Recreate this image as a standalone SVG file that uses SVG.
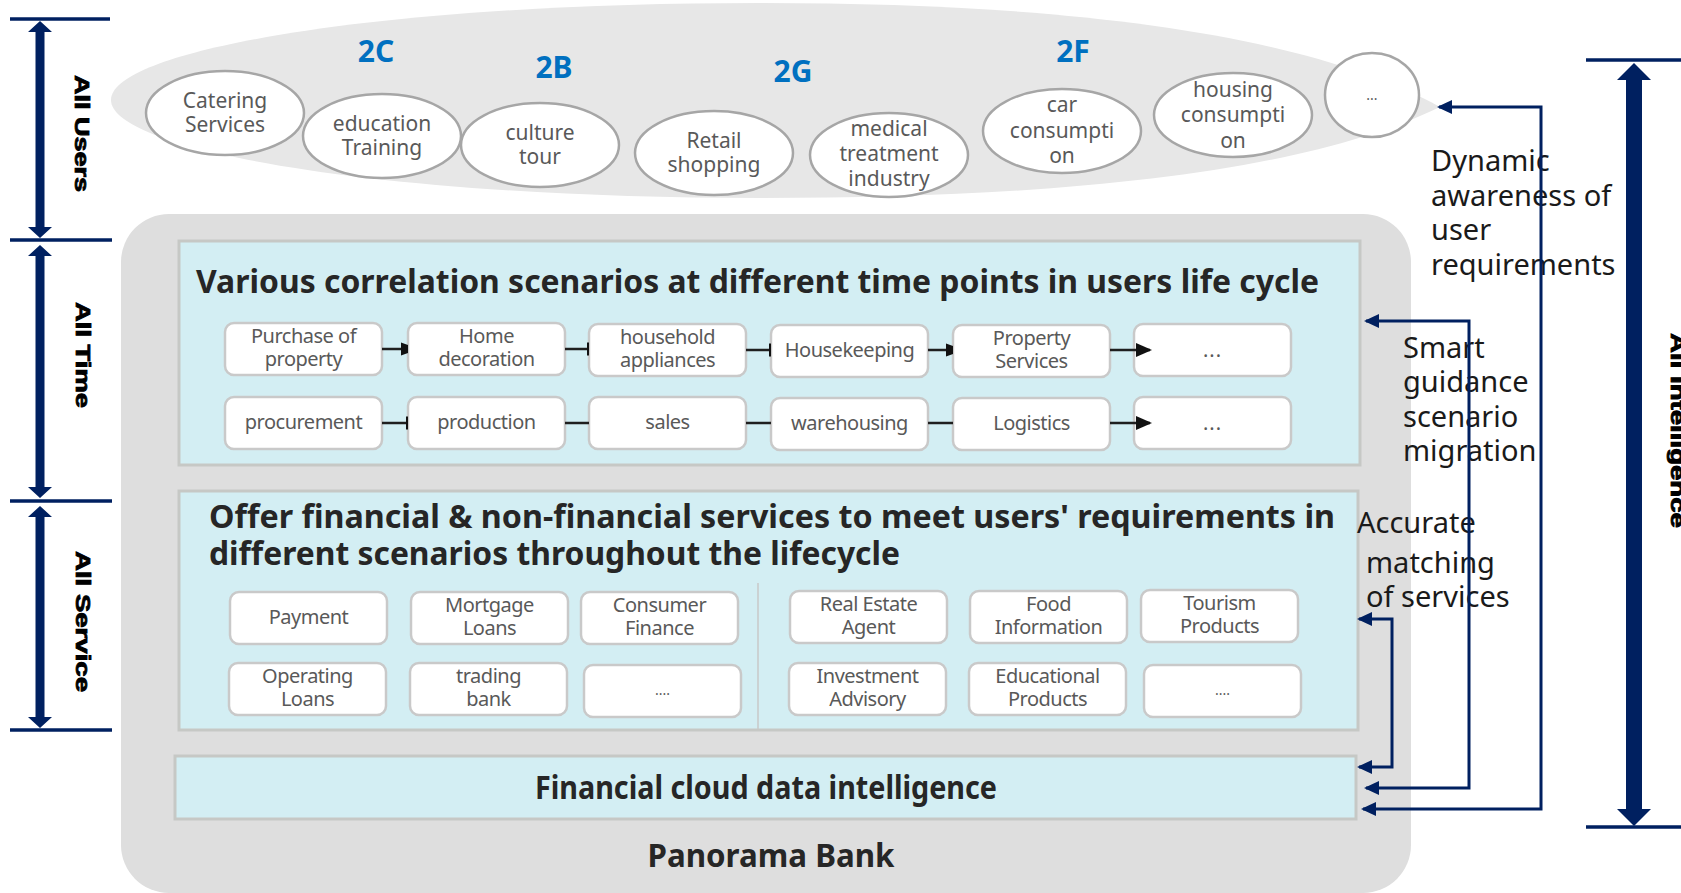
<svg xmlns="http://www.w3.org/2000/svg" width="1681" height="893" viewBox="0 0 1681 893">
  <style>
    .navy { fill: #002060; }
    .scale { stroke: #002060; stroke-width: 3.5; fill: none; }
    .lbl { font-family: "Liberation Sans", Arial, sans-serif; font-weight: bold; font-size: 20px; fill: #000; stroke: #000; stroke-width: 0.8px; }
    .bubble { fill: #fff; stroke: #a6a6a6; stroke-width: 2.5; }
    .btxt { font-family: "Noto Sans", "Open Sans", sans-serif; font-size: 21px; fill: #595959; text-anchor: middle; }
    .seg { font-family: "Noto Sans", "Open Sans", sans-serif; font-weight: bold; font-size: 30px; fill: #0070c0; text-anchor: middle; }
    .panel { fill: #d3eef3; stroke: #c6c8c5; stroke-width: 3; }
    .box { fill: #fff; stroke: #c9c9c9; stroke-width: 2.5; }
    .t { font-family: "Noto Sans", "Open Sans", sans-serif; font-size: 20px; letter-spacing: -0.5px; fill: #595959; text-anchor: middle; }
    .dots { font-family: "Noto Sans", sans-serif; font-size: 14px; fill: #595959; text-anchor: middle; }
    .title { font-family: "Noto Sans", "Open Sans", sans-serif; font-weight: bold; font-size: 32px; fill: #262626; }
    .side { font-family: "Noto Sans", "Open Sans", sans-serif; font-size: 29px; fill: #1a1a1a; }
    .flow { stroke: #1f1f1f; stroke-width: 2.5; fill: none; }
    .link { stroke: #002060; stroke-width: 3; fill: none; marker-start: url(#navyHead); marker-end: url(#navyHead); }
  </style>
  <defs>
    <marker id="tri" markerUnits="userSpaceOnUse" markerWidth="16" markerHeight="14" refX="14" refY="7" orient="auto">
      <path d="M0,0 L16,7 L0,14 Z" fill="#111"/>
    </marker>
    <marker id="stub" markerUnits="userSpaceOnUse" markerWidth="8" markerHeight="14" refX="7" refY="7" orient="auto">
      <path d="M0,0.5 L7,3 L7,11 L0,13.5 Z" fill="#111"/>
    </marker>
    <marker id="bar" markerUnits="userSpaceOnUse" markerWidth="3" markerHeight="14" refX="2.5" refY="7" orient="auto">
      <rect x="0" y="0.5" width="2.5" height="13" fill="#111"/>
    </marker>
    <marker id="navyHead" markerUnits="userSpaceOnUse" markerWidth="15" markerHeight="14" refX="13" refY="7" orient="auto-start-reverse">
      <path d="M0,0 L15,7 L0,14 Z" fill="#002060"/>
    </marker>
  </defs>

  <!-- left dimension scale -->
  <g id="scale-left">
    <line class="scale" x1="10" y1="19" x2="110" y2="19"/>
    <line class="scale" x1="10" y1="240" x2="112" y2="240"/>
    <line class="scale" x1="10" y1="501" x2="112" y2="501"/>
    <line class="scale" x1="10" y1="730" x2="112" y2="730"/>
    <polygon class="navy" points="40,21 52,32 44.5,32 44.5,227 52,227 40,238 28,227 35.5,227 35.5,32 28,32"/>
    <polygon class="navy" points="40,245 52,256 44.5,256 44.5,487 52,487 40,498 28,487 35.5,487 35.5,256 28,256"/>
    <polygon class="navy" points="40,506 52,517 44.5,517 44.5,717 52,717 40,728 28,717 35.5,717 35.5,517 28,517"/>
    <text class="lbl" transform="translate(75,75) rotate(90)" textLength="117" lengthAdjust="spacingAndGlyphs">All Users</text>
    <text class="lbl" transform="translate(76,302) rotate(90)" textLength="106" lengthAdjust="spacingAndGlyphs">All Time</text>
    <text class="lbl" transform="translate(76,551) rotate(90)" textLength="141" lengthAdjust="spacingAndGlyphs">All Service</text>
  </g>

  <!-- right dimension scale -->
  <g id="scale-right">
    <line class="scale" x1="1586" y1="60" x2="1681" y2="60"/>
    <line class="scale" x1="1586" y1="827" x2="1681" y2="827"/>
    <polygon class="navy" points="1634,63 1651,80 1642,80 1642,809 1651,809 1634,826 1617,809 1626,809 1626,80 1617,80"/>
    <text class="lbl" transform="translate(1671,333) rotate(90)" textLength="195" lengthAdjust="spacingAndGlyphs">All Intelligence</text>
  </g>

  <!-- user cloud -->
  <g id="users">
    <path d="M1440,107 C1300,30 1050,3 760,3 C380,3 111,50 111,100 C111,150 380,198 760,198 C1050,198 1300,175 1440,107 Z" fill="#e7e7e7"/>
    <text class="seg" x="376" y="62">2C</text>
    <text class="seg" x="554" y="78">2B</text>
    <text class="seg" x="793" y="82">2G</text>
    <text class="seg" x="1073" y="62">2F</text>
  </g>
  <g id="u-catering"><ellipse class="bubble" cx="225" cy="113" rx="79" ry="42"/><text class="btxt" x="225" y="108">Catering</text><text class="btxt" x="225" y="132">Services</text></g>
  <g id="u-education"><ellipse class="bubble" cx="382" cy="136" rx="79" ry="42"/><text class="btxt" x="382" y="131">education</text><text class="btxt" x="382" y="155">Training</text></g>
  <g id="u-culture"><ellipse class="bubble" cx="540" cy="145" rx="79" ry="42"/><text class="btxt" x="540" y="140">culture</text><text class="btxt" x="540" y="164">tour</text></g>
  <g id="u-retail"><ellipse class="bubble" cx="714" cy="153" rx="79" ry="42"/><text class="btxt" x="714" y="148">Retail</text><text class="btxt" x="714" y="172">shopping</text></g>
  <g id="u-medical"><ellipse class="bubble" cx="889" cy="155" rx="79" ry="42"/><text class="btxt" x="889" y="136">medical</text><text class="btxt" x="889" y="161">treatment</text><text class="btxt" x="889" y="186">industry</text></g>
  <g id="u-car"><ellipse class="bubble" cx="1062" cy="131" rx="79" ry="42"/><text class="btxt" x="1062" y="112">car</text><text class="btxt" x="1062" y="138">consumpti</text><text class="btxt" x="1062" y="163">on</text></g>
  <g id="u-housing"><ellipse class="bubble" cx="1233" cy="115" rx="79" ry="42"/><text class="btxt" x="1233" y="97">housing</text><text class="btxt" x="1233" y="122">consumpti</text><text class="btxt" x="1233" y="148">on</text></g>
  <g id="u-more"><ellipse class="bubble" cx="1372" cy="95" rx="47" ry="42"/><text class="dots" x="1372" y="100">...</text></g>

  <!-- bank platform -->
  <g id="bank">
    <rect x="121" y="214" width="1290" height="679" rx="48" fill="#dedede"/>
    <text class="title" x="771" y="867" text-anchor="middle" textLength="247" lengthAdjust="spacingAndGlyphs">Panorama Bank</text>
  </g>

  <g id="scenarios">
    <rect class="panel" x="179" y="241" width="1181" height="224"/>
    <text class="title" x="196" y="293" textLength="1123" lengthAdjust="spacingAndGlyphs">Various correlation scenarios at different time points in users life cycle</text>
  </g>
  <g id="s-purchase"><rect class="box" x="225" y="323" width="157" height="52" rx="9"/><text class="t" x="303.5" y="343">Purchase of</text><text class="t" x="303.5" y="366">property</text></g>
  <g id="s-home"><rect class="box" x="408" y="323" width="157" height="52" rx="9"/><text class="t" x="486.5" y="343">Home</text><text class="t" x="486.5" y="366">decoration</text></g>
  <g id="s-appliances"><rect class="box" x="589" y="324" width="157" height="52" rx="9"/><text class="t" x="667.5" y="344">household</text><text class="t" x="667.5" y="367">appliances</text></g>
  <g id="s-housekeeping"><rect class="box" x="771" y="325" width="157" height="52" rx="9"/><text class="t" x="849.5" y="357">Housekeeping</text></g>
  <g id="s-property"><rect class="box" x="953" y="325" width="157" height="52" rx="9"/><text class="t" x="1031.5" y="345">Property</text><text class="t" x="1031.5" y="368">Services</text></g>
  <g id="s-more1"><rect class="box" x="1134" y="324" width="157" height="52" rx="9"/><text class="t" x="1212.5" y="357" style="letter-spacing:1px">...</text></g>
  <g id="s-procurement"><rect class="box" x="225" y="397" width="157" height="52" rx="9"/><text class="t" x="303.5" y="429">procurement</text></g>
  <g id="s-production"><rect class="box" x="408" y="397" width="157" height="52" rx="9"/><text class="t" x="486.5" y="429">production</text></g>
  <g id="s-sales"><rect class="box" x="589" y="397" width="157" height="52" rx="9"/><text class="t" x="667.5" y="429">sales</text></g>
  <g id="s-warehousing"><rect class="box" x="771" y="398" width="157" height="52" rx="9"/><text class="t" x="849.5" y="430">warehousing</text></g>
  <g id="s-logistics"><rect class="box" x="953" y="398" width="157" height="52" rx="9"/><text class="t" x="1031.5" y="430">Logistics</text></g>
  <g id="s-more2"><rect class="box" x="1134" y="397" width="157" height="52" rx="9"/><text class="t" x="1212.5" y="430" style="letter-spacing:1px">...</text></g>

  <g id="services">
    <rect class="panel" x="179" y="491" width="1179" height="239"/>
    <text class="title" x="209" y="528" textLength="1126" lengthAdjust="spacingAndGlyphs">Offer financial &amp; non-financial services to meet users' requirements in</text>
    <text class="title" x="209" y="565" textLength="691" lengthAdjust="spacingAndGlyphs">different scenarios throughout the lifecycle</text>
    <line x1="758" y1="583" x2="758" y2="729" stroke="#c8c8c8" stroke-width="1.5"/>
  </g>
  <g id="f-payment"><rect class="box" x="230" y="592" width="157" height="52" rx="9"/><text class="t" x="308.5" y="624">Payment</text></g>
  <g id="f-mortgage"><rect class="box" x="411" y="592" width="157" height="52" rx="9"/><text class="t" x="489.5" y="612">Mortgage</text><text class="t" x="489.5" y="635">Loans</text></g>
  <g id="f-consumer"><rect class="box" x="581" y="592" width="157" height="52" rx="9"/><text class="t" x="659.5" y="612">Consumer</text><text class="t" x="659.5" y="635">Finance</text></g>
  <g id="f-operating"><rect class="box" x="229" y="663" width="157" height="52" rx="9"/><text class="t" x="307.5" y="683">Operating</text><text class="t" x="307.5" y="706">Loans</text></g>
  <g id="f-trading"><rect class="box" x="410" y="663" width="157" height="52" rx="9"/><text class="t" x="488.5" y="683">trading</text><text class="t" x="488.5" y="706">bank</text></g>
  <g id="f-more"><rect class="box" x="584" y="665" width="157" height="52" rx="9"/><text class="dots" x="662.5" y="695">....</text></g>
  <g id="n-realestate"><rect class="box" x="790" y="591" width="157" height="52" rx="9"/><text class="t" x="868.5" y="611">Real Estate</text><text class="t" x="868.5" y="634">Agent</text></g>
  <g id="n-food"><rect class="box" x="970" y="591" width="157" height="52" rx="9"/><text class="t" x="1048.5" y="611">Food</text><text class="t" x="1048.5" y="634">Information</text></g>
  <g id="n-tourism"><rect class="box" x="1141" y="590" width="157" height="52" rx="9"/><text class="t" x="1219.5" y="610">Tourism</text><text class="t" x="1219.5" y="633">Products</text></g>
  <g id="n-investment"><rect class="box" x="789" y="663" width="157" height="52" rx="9"/><text class="t" x="867.5" y="683">Investment</text><text class="t" x="867.5" y="706">Advisory</text></g>
  <g id="n-educational"><rect class="box" x="969" y="663" width="157" height="52" rx="9"/><text class="t" x="1047.5" y="683">Educational</text><text class="t" x="1047.5" y="706">Products</text></g>
  <g id="n-more"><rect class="box" x="1144" y="665" width="157" height="52" rx="9"/><text class="dots" x="1222.5" y="695">....</text></g>

  <g id="cloud-data">
    <rect class="panel" x="175" y="756" width="1181" height="63"/>
    <text class="title" x="766" y="799" text-anchor="middle" textLength="462" lengthAdjust="spacingAndGlyphs">Financial cloud data intelligence</text>
  </g>

  <!-- side captions -->
  <g id="captions">
    <text class="side" x="1431" y="171">Dynamic</text>
    <text class="side" x="1431" y="206">awareness of</text>
    <text class="side" x="1431" y="240">user</text>
    <text class="side" x="1431" y="275">requirements</text>
    <text class="side" x="1403" y="358">Smart</text>
    <text class="side" x="1403" y="392">guidance</text>
    <text class="side" x="1403" y="427">scenario</text>
    <text class="side" x="1403" y="461">migration</text>
    <text class="side" x="1357" y="533">Accurate</text>
    <text class="side" x="1366" y="573">matching</text>
    <text class="side" x="1366" y="607">of services</text>
  </g>

  <!-- connectors -->
  <g id="connectors">
    <line class="flow" x1="382" y1="349" x2="408" y2="349" marker-end="url(#stub)"/>
    <line class="flow" x1="565" y1="349" x2="589" y2="349" marker-end="url(#bar)"/>
    <line class="flow" x1="746" y1="350" x2="771" y2="350" marker-end="url(#bar)"/>
    <line class="flow" x1="928" y1="350" x2="953" y2="350" marker-end="url(#stub)"/>
    <line class="flow" x1="1110" y1="350" x2="1150" y2="350" marker-end="url(#tri)"/>
    <line class="flow" x1="382" y1="423" x2="408" y2="423" marker-end="url(#bar)"/>
    <line class="flow" x1="565" y1="423" x2="589" y2="423"/>
    <line class="flow" x1="746" y1="423" x2="771" y2="423"/>
    <line class="flow" x1="928" y1="423" x2="953" y2="423"/>
    <line class="flow" x1="1110" y1="423" x2="1150" y2="423" marker-end="url(#tri)"/>
    <polyline class="link" points="1439,107 1541,107 1541,809 1363,809"/>
    <polyline class="link" points="1366,321 1469,321 1469,788 1366,788"/>
    <polyline class="link" points="1359,619 1392,619 1392,767 1359,767"/>
  </g>
</svg>
